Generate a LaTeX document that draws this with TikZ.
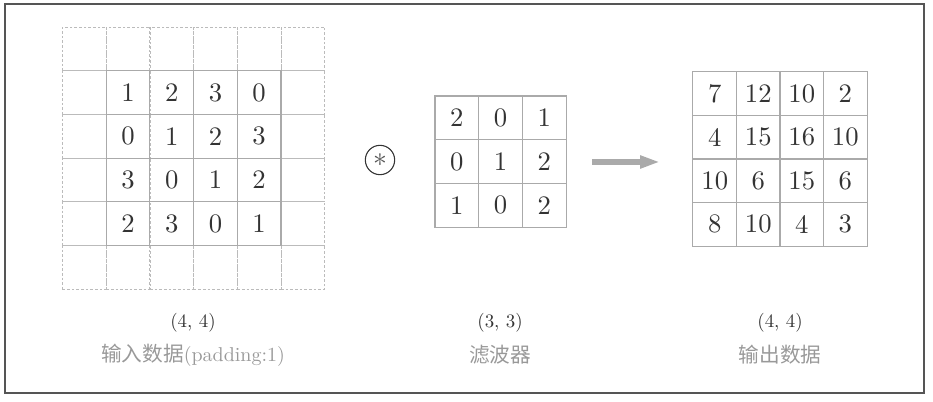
\documentclass[tikz,border=0pt]{standalone}
\usepackage{fontspec}
\newfontfamily\cjk{Noto Sans CJK SC}
\newfontfamily\lmten{lmroman10-regular.otf}
\usetikzlibrary{arrows.meta,positioning}
\definecolor{numcol}{HTML}{333333}
\definecolor{cellgray}{HTML}{AAAAAA}
\definecolor{padgray}{HTML}{BBBBBB}
\definecolor{labgray}{HTML}{999999}
\definecolor{framegray}{HTML}{555555}
\definecolor{arrowgray}{HTML}{AAAAAA}

\begin{document}
\begin{tikzpicture}[x=0.75pt, y=-0.75pt,
  cell/.style={minimum size=32.8pt, inner sep=0pt, draw=cellgray,
    line width=0.8pt, font=\lmten\fontsize{20}{22}\selectfont, text=numcol},
  pad/.style={minimum size=32.8pt, inner sep=0pt, draw=padgray,
    line width=0.6pt, dash pattern=on 2pt off 1.5pt},
  shapelbl/.style={font=\lmten\fontsize{14.2}{16}\selectfont, text=numcol},
  namelbl/.style={font=\lmten\fontsize{15}{17}\selectfont, text=labgray},
]
  \useasboundingbox (0,0) rectangle (933,402);
  \draw[framegray, line width=0.9pt] (5,4) rectangle (924,393);
  % Padded input (dashed ring)
  \foreach \r in {0,...,5}{
    \foreach \c in {0,...,5}{
      \node[pad] (p\r\c) at (84.35+\c*43.7, 48.85+\r*43.7) {};
    }
  }
  % Input data
  \foreach \row [count=\r] in {{1,2,3,0},{0,1,2,3},{3,0,1,2},{2,3,0,1}}{
    \foreach \v [count=\c] in \row {
      \node[cell] (x\r\c) at (84.35+\c*43.7, 48.85+\r*43.7) {\v};
    }
  }
  % Convolution sign
  \node[draw=numcol, circle, minimum size=22pt, inner sep=0pt,
    line width=0.8pt, font=\fontsize{22}{22}\selectfont, text=framegray]
    (conv) at (380,160) {$\ast$};
  % Filter
  \foreach \row [count=\r] in {{2,0,1},{0,1,2},{1,0,2}}{
    \foreach \v [count=\c] in \row {
      \node[cell] (f\r\c) at (413.15+\c*43.7, 74.15+\r*43.7) {\v};
    }
  }
  % Arrow
  \coordinate (arrs) at (592,162);
  \coordinate (arre) at (660,162);
  \draw[arrowgray, line width=4.5pt, -{Triangle[length=15pt, width=9pt]}]
    (arrs) -- (arre);
  % Output data
  \foreach \row [count=\r] in {{7,12,10,2},{4,15,16,10},{10,6,15,6},{8,10,4,3}}{
    \foreach \v [count=\c] in \row {
      \node[cell] (y\r\c) at (671.25+\c*43.5, 50.25+\r*43.5) {\v};
    }
  }
  % Shapes and names
  \node[shapelbl] (xshape) at (193,323) {(4, 4)};
  \node[namelbl] (xname) at (193,355) {{\cjk\fontsize{15.5}{17}\selectfont 输入数据}(padding:1)};
  \node[shapelbl] (fshape) at (500,323) {(3, 3)};
  \node[namelbl] (fname) at (500,355) {{\cjk\fontsize{15.5}{17}\selectfont 滤波器}};
  \node[shapelbl] (yshape) at (780,323) {(4, 4)};
  \node[namelbl] (yname) at (780,355) {{\cjk\fontsize{15.5}{17}\selectfont 输出数据}};
\end{tikzpicture}
\end{document}
